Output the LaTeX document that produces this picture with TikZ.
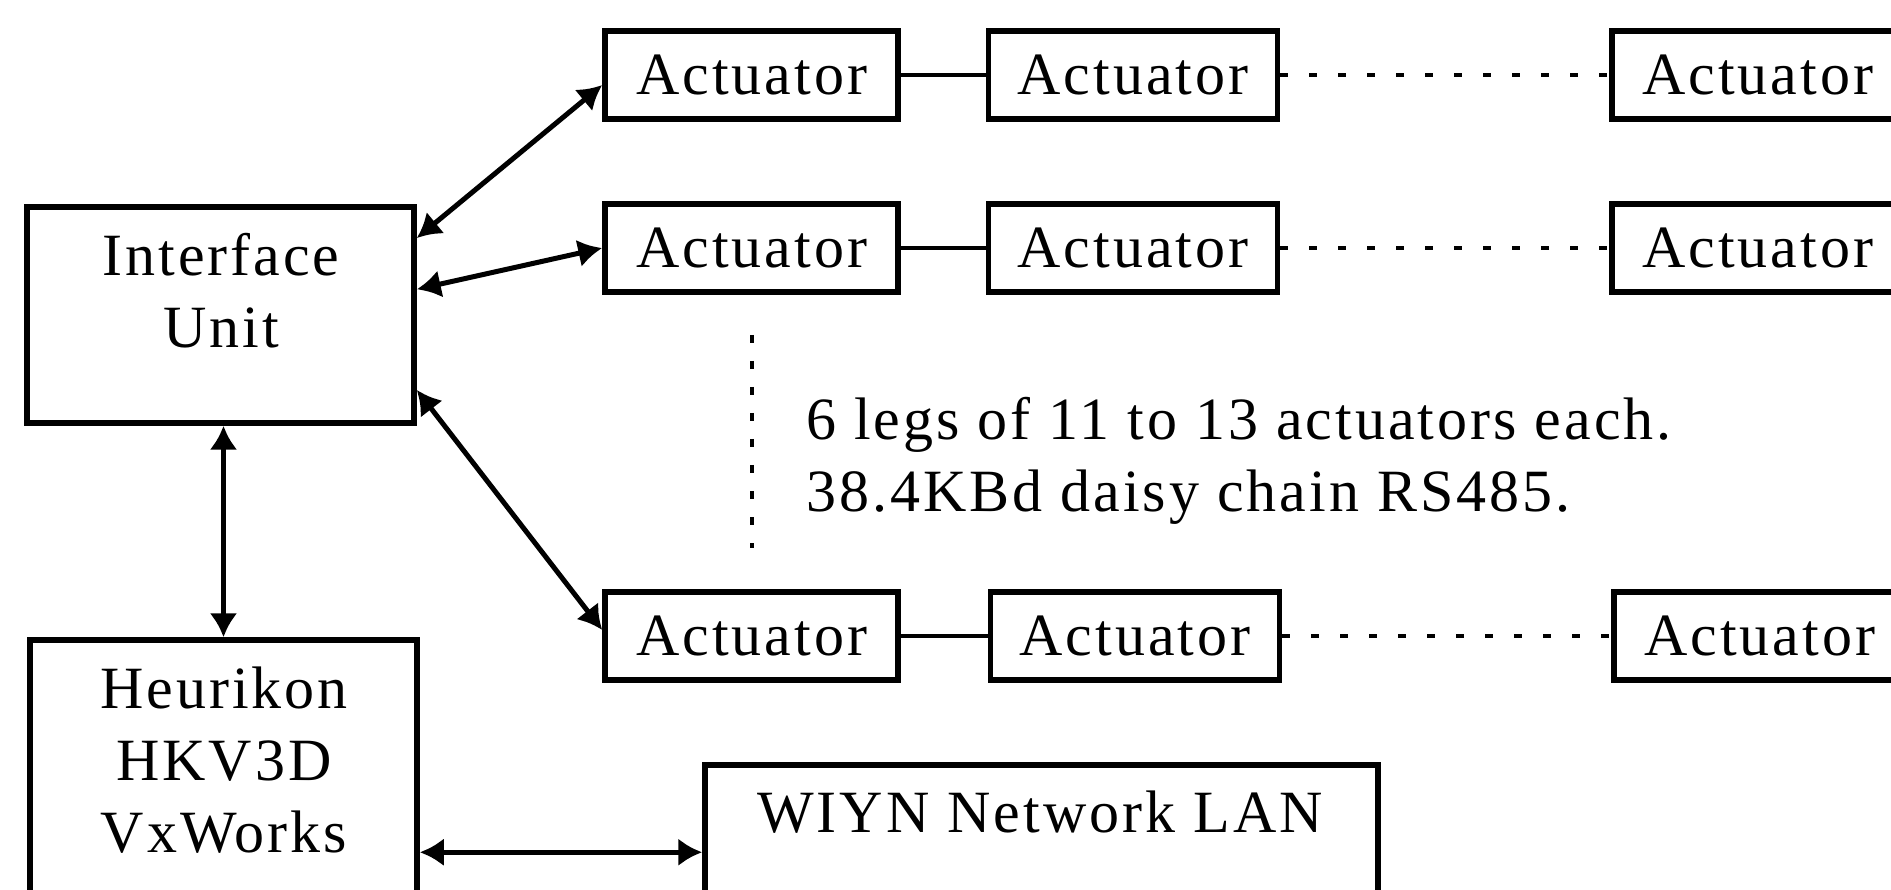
\documentclass[tikz,border=0pt]{standalone}
\usepackage{fontspec}
\setmainfont{Liberation Serif}[LetterSpace=5]
\usetikzlibrary{arrows.meta,calc}
\newcommand\mylines[2]{\begin{tabular}[t]{@{}#1@{}}#2\end{tabular}}
\begin{document}
\begin{tikzpicture}[x=1pt,y=-1pt,
  every node/.style={font=\fontsize{60}{72}\selectfont},
  box/.style={draw, line width=5.5pt, inner sep=0pt, minimum height=88pt},
  bigbox/.style={draw, line width=5.5pt, inner sep=0pt},
  lbl/.style={anchor=base, inner sep=0pt},
  arr/.style={{Latex[length=24pt,width=28pt]}-{Latex[length=24pt,width=28pt]}, line width=5pt},
  link/.style={line width=4.5pt},
  dashlink/.style={line width=4.5pt, dash pattern=on 8pt off 21pt},
  vdots/.style={line width=4pt, dash pattern=on 8pt off 18pt}]
\clip (0,0) rectangle (1891,890);
\fill[white] (0,0) rectangle (1891,890);
% left boxes
\node[bigbox, minimum width=387pt, minimum height=216pt] (iu) at (220.5,315) {};
\node[lbl] (iut) at (221,276) {\mylines{c}{Interface\\Unit}};
\node[bigbox, minimum width=387pt, minimum height=360pt] (hk) at (223.5,820) {};
\node[lbl] (hkt) at (224,708) {\mylines{c}{Heurikon\\HKV3D\\VxWorks}};
\node[bigbox, minimum width=673pt, minimum height=235pt] (wl) at (1041.5,882.5) {};
\node[lbl] (wlt) at (1040,832) {WIYN Network LAN};
% actuator rows
\node[box, minimum width=293pt] (a11) at (751.5,75) {Actuator};
\node[box, minimum width=289pt] (a12) at (1133,75) {Actuator};
\node[box, minimum width=291pt] (a13) at (1757.5,75) {Actuator};
\node[box, minimum width=293pt] (a21) at (751.5,248) {Actuator};
\node[box, minimum width=289pt] (a22) at (1133,248) {Actuator};
\node[box, minimum width=291pt] (a23) at (1757.5,248) {Actuator};
\node[box, minimum width=293pt] (a31) at (751.5,636) {Actuator};
\node[box, minimum width=289pt] (a32) at (1135,636) {Actuator};
\node[box, minimum width=291pt] (a33) at (1759.5,636) {Actuator};
% annotation
\node[anchor=base west, inner sep=0pt] (note) at (806,440) {\mylines{l}{6 legs of 11 to 13 actuators each.\\38.4KBd daisy chain RS485.}};
\coordinate (vtop) at (752,335);
\coordinate (vbot) at (752,548);
\draw[vdots] (vtop) -- (vbot);
% chains
\foreach \r in {1,2,3}{
  \draw[link] (a\r1.east) -- (a\r2.west);
  \draw[dashlink] (a\r2.east) -- (a\r3.west);
}
% arrows
\draw[arr] ($(iu.north east)!0.153!(iu.south east)$) -- ($(a11.west)+(0,10)$);
\draw[arr] ($(iu.north east)!0.384!(iu.south east)$) -- (a21.west);
\draw[arr] ($(iu.north east)!0.838!(iu.south east)$) -- ($(a31.west)+(0,-6)$);
\draw[arr] (hk.north |- iu.south) -- (hk.north);
\coordinate (hkout) at ($(hk.north east)+(0,215)$);
\draw[arr] (hkout) -- (hkout -| wl.west);
\end{tikzpicture}
\end{document}
